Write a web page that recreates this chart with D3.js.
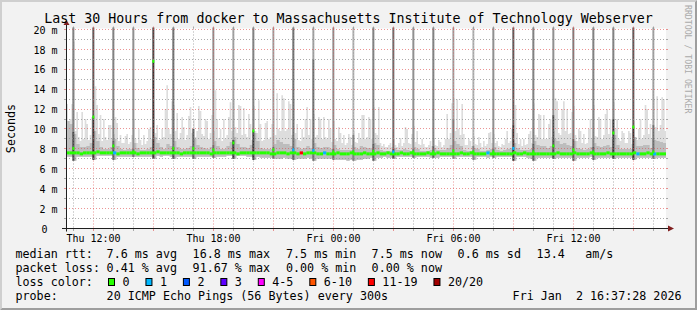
<!DOCTYPE html>
<html>
<head>
<meta charset="utf-8">
<script src="https://cdn.jsdelivr.net/npm/d3@7"></script>
<style>
html, body { margin: 0; padding: 0; background: #f2f2f2; }
svg { display: block; }
text { font-family: "DejaVu Sans Mono", monospace; white-space: pre; }
</style>
</head>
<body>
<script>
let width = 697;
let height = 310;

// ---- data (values in ms) ----
// slowest ping, 5 minute steps starting Thu 10:30
let smokeMax = [
  9.6, 10.5, 12.5, 10.8, 11.0, 12.5, 18.8, 9.8, 11.7, 9.2, 8.8, 11.7,
  9.0, 11.0, 10.5, 8.9, 9.4, 11.2, 9.6, 14.3, 12.4, 9.5, 11.4, 8.8,
  11.0, 9.2, 8.9, 10.4, 10.4, 9.0, 9.5, 11.2, 10.6, 8.8, 9.4, 8.6,
  8.6, 9.3, 9.5, 8.5, 8.7, 9.4, 11.0, 9.0, 8.6, 10.0, 8.9, 8.4,
  9.4, 8.5, 8.8, 10.0, 10.2, 9.0, 12.0, 9.6, 10.4, 8.9, 9.0, 10.0,
  9.2, 12.0, 14.4, 10.0, 9.5, 12.8, 12.4, 9.8, 11.6, 9.0, 9.6, 11.2,
  10.2, 8.9, 9.4, 11.3, 12.2, 9.6, 11.0, 9.2, 9.8, 12.3, 11.8, 9.5,
  9.3, 11.0, 10.8, 9.0, 9.6, 11.4, 9.8, 13.9, 11.0, 9.1, 10.0, 8.8,
  11.0, 9.0, 9.4, 11.2, 12.7, 9.8, 12.9, 10.2, 9.6, 12.4, 12.3, 9.4,
  12.1, 9.5, 9.2, 11.5, 10.5, 8.9, 12.3, 9.8, 9.6, 12.9, 10.5, 8.8,
  8.9, 10.6, 10.8, 9.0, 9.2, 10.5, 12.0, 9.4, 13.6, 10.0, 9.8, 13.4,
  13.1, 9.8, 10.0, 12.8, 12.5, 9.4, 13.0, 9.6, 10.5, 8.9, 8.8, 10.0,
  9.2, 11.0, 12.2, 9.4, 11.0, 9.0, 11.5, 9.2, 9.4, 11.2, 11.0, 9.0,
  11.2, 9.2, 9.0, 11.0, 10.0, 8.7, 10.8, 9.0, 8.8, 10.2, 9.6, 8.6,
  9.4, 8.4, 8.6, 9.5, 9.2, 8.4, 9.8, 8.7, 8.6, 9.6, 9.0, 11.4,
  11.4, 9.0, 9.2, 11.2, 11.0, 9.0, 12.2, 9.6, 9.4, 12.2, 8.6, 8.3,
  8.5, 8.2, 8.2, 8.4, 8.6, 8.2, 9.0, 8.4, 8.2, 8.6, 9.1, 8.3,
  8.6, 10.2, 10.0, 8.6, 8.5, 9.5, 10.3, 8.7, 9.8, 8.5, 8.4, 9.0,
  8.5, 8.2, 8.2, 8.4, 8.8, 8.3, 9.1, 8.4, 8.3, 8.9, 8.7, 8.2,
  8.4, 9.0, 11.5, 9.0, 9.6, 12.6, 13.1, 9.8, 13.0, 10.0, 9.4, 12.5,
  9.5, 8.4, 8.4, 9.0, 8.8, 8.3, 9.3, 8.5, 8.4, 9.2, 8.6, 8.2,
  8.8, 8.3, 8.5, 9.6, 9.7, 8.6, 9.5, 8.6, 8.8, 8.3, 8.2, 8.5,
  8.4, 9.0, 9.8, 8.6, 8.8, 10.0, 8.9, 12.4, 9.6, 8.5, 9.0, 8.3,
  9.0, 8.4, 8.5, 9.5, 9.8, 8.6, 12.6, 9.4, 9.2, 11.5, 11.4, 9.0,
  11.4, 9.0, 9.0, 10.5, 11.0, 9.2, 9.8, 13.1, 12.8, 9.6, 9.4, 12.0,
  12.8, 9.8, 12.0, 9.5, 9.6, 11.7, 12.3, 9.4, 8.8, 10.0, 9.8, 8.6,
  9.5, 8.5, 8.6, 10.0, 11.0, 9.0, 12.4, 9.3, 9.2, 11.2, 11.0, 9.0,
  9.4, 11.5, 12.0, 9.5, 11.0, 9.2, 12.7, 10.0, 11.0, 9.0, 8.8, 9.8,
  9.6, 8.6, 8.6, 9.8, 9.6, 8.5, 10.8, 9.2, 8.9, 10.0, 11.0, 9.0,
  9.4, 12.4, 12.0, 9.5, 10.5, 9.0, 13.0, 10.2, 13.3, 9.8, 10.4, 13.2,
  13.0, 9.8
];
// upper edge of the denser smoke, 10 minute steps starting Thu 10:30
let smokeUp = [
  10.3, 10.8, 10.5, 9.5, 8.5, 8.2,  8.2, 8.3, 8.6, 9.8, 8.8, 8.2,
  8.0, 8.0, 8.2, 9.0, 8.3, 8.0,     7.9, 8.0, 8.0, 8.6, 8.1, 7.9,
  7.9, 8.0, 8.2, 9.2, 8.6, 8.2,     8.0, 8.5, 8.3, 8.8, 8.2, 8.0,
  8.0, 8.1, 8.3, 9.0, 8.4, 8.2,     8.1, 8.0, 8.2, 8.8, 8.3, 8.0,
  8.0, 8.3, 8.7, 9.2, 8.5, 8.2,     8.2, 8.1, 8.4, 9.6, 8.8, 8.1,
  8.0, 8.0, 8.0, 8.5, 8.9, 8.7,     8.5, 8.5, 8.3, 9.0, 8.2, 8.0,
  8.1, 8.3, 8.1, 8.6, 8.2, 8.1,     8.2, 8.2, 8.0, 8.4, 8.0, 7.9,
  7.9, 7.9, 7.9, 8.2, 8.0, 8.3,     8.2, 8.1, 8.1, 8.6, 8.4, 7.9,
  7.8, 7.8, 7.8, 8.1, 7.9, 7.9,     8.0, 7.9, 7.8, 8.2, 8.0, 7.8,
  7.8, 7.8, 7.9, 8.1, 7.9, 7.9,     7.9, 8.1, 8.4, 8.8, 8.5, 8.3,
  7.9, 7.8, 7.8, 8.1, 8.0, 7.8,     7.8, 7.9, 8.0, 8.2, 7.9, 7.8,
  7.9, 8.0, 8.1, 8.6, 8.1, 7.9,     7.9, 7.9, 8.0, 8.8, 8.4, 8.3,
  8.3, 8.1, 8.3, 9.0, 8.8, 8.5,     8.6, 8.4, 8.3, 8.8, 8.1, 8.0,
  7.9, 8.0, 8.2, 8.6, 8.3, 8.2,     8.3, 8.4, 8.2, 9.4, 8.4, 8.0,
  8.0, 8.0, 8.0, 9.2, 8.3, 8.3,     8.4, 8.4, 8.1, 8.9, 8.8, 8.7,
  8.6
];
// fastest ping, 10 minute steps
let smokeMin = [
  7.2, 7.2, 7.2, 6.8, 7.2, 7.2,  7.2, 7.2, 7.2, 6.9, 7.3, 7.3,
  7.3, 7.3, 7.3, 6.9, 7.2, 7.2,  7.2, 7.2, 7.2, 7.2, 7.2, 7.2,
  7.2, 7.2, 7.2, 7.0, 7.3, 7.2,  7.3, 7.3, 7.2, 7.0, 7.2, 7.2,
  7.2, 7.2, 7.2, 7.0, 7.2, 7.2,  7.2, 7.2, 7.2, 7.1, 7.2, 7.2,
  7.2, 7.3, 7.3, 7.0, 7.3, 7.3,  7.3, 7.2, 7.2, 6.9, 7.2, 7.1,
  7.1, 7.1, 7.1, 7.0, 7.0, 7.0,  7.1, 7.0, 7.0, 6.9, 7.0, 7.0,
  7.0, 7.1, 7.0, 6.8, 7.0, 7.0,  7.0, 7.0, 7.0, 6.9, 6.9, 6.9,
  6.9, 6.8, 6.9, 6.8, 6.9, 6.9,  7.0, 7.0, 7.1, 6.8, 7.1, 7.1,
  7.2, 7.1, 7.1, 7.0, 7.2, 7.2,  7.2, 7.2, 7.2, 7.1, 7.2, 7.2,
  7.2, 7.2, 7.1, 7.1, 7.1, 7.2,  7.2, 7.2, 7.2, 7.0, 7.2, 7.2,
  7.2, 7.2, 7.2, 6.9, 7.2, 7.2,  7.2, 7.1, 7.2, 7.1, 7.2, 7.2,
  7.2, 7.2, 7.2, 6.8, 7.2, 7.2,  7.2, 7.1, 7.0, 6.8, 7.1, 7.1,
  7.1, 7.1, 7.1, 7.0, 7.1, 7.1,  7.1, 7.1, 7.1, 6.8, 7.1, 7.1,
  7.1, 7.1, 7.2, 6.9, 7.1, 7.1,  7.1, 7.1, 7.1, 7.0, 7.1, 7.1,
  7.1, 7.1, 7.1, 6.9, 7.1, 7.1,  7.1, 7.1, 7.1, 7.0, 7.1, 7.1,
  7.1
];
// median rtt, 10 minute steps
let median = [
  7.6, 7.6, 7.6, 7.6, 7.6, 7.5,  7.6, 7.6, 7.6, 7.6, 7.7, 7.6,
  7.6, 7.6, 7.6, 7.6, 7.5, 7.6,  7.6, 7.6, 7.6, 7.6, 7.5, 7.6,
  7.6, 7.6, 7.6, 7.6, 7.7, 7.6,  7.6, 7.6, 7.6, 7.6, 7.6, 7.5,
  7.6, 7.6, 7.6, 7.6, 7.6, 7.6,  7.6, 7.6, 7.5, 7.6, 7.6, 7.6,
  7.6, 7.6, 7.6, 7.6, 7.5, 7.6,  7.6, 7.6, 7.6, 7.6, 7.6, 7.6,
  7.6, 7.6, 7.5, 7.5, 7.6, 7.6,  7.6, 7.5, 7.6, 7.6, 7.5, 7.6,
  7.5, 7.6, 7.6, 7.6, 7.5, 7.5,  7.6, 7.5, 7.5, 7.5, 7.6, 7.5,
  7.5, 7.5, 7.6, 7.5, 7.5, 7.5,  7.6, 7.5, 7.5, 7.5, 7.6, 7.5,
  7.5, 7.6, 7.5, 7.5, 7.5, 7.6,  7.5, 7.5, 7.6, 7.5, 7.5, 7.5,
  7.5, 7.6, 7.5, 7.5, 7.6, 7.5,  7.5, 7.5, 7.5, 7.5, 7.5, 7.6,
  7.5, 7.5, 7.6, 7.5, 7.5, 7.5,  7.5, 7.6, 7.5, 7.5, 7.5, 7.5,
  7.5, 7.5, 7.5, 7.6, 7.5, 7.5,  7.6, 7.5, 7.5, 7.5, 7.5, 7.5,
  7.5, 7.5, 7.5, 7.5, 7.6, 7.5,  7.5, 7.5, 7.5, 7.6, 7.5, 7.5,
  7.5, 7.5, 7.6, 7.5, 7.5, 7.5,  7.5, 7.6, 7.5, 7.5, 7.5, 7.5,
  7.5, 7.5, 7.5, 7.6, 7.5, 7.5,  7.5, 7.6, 7.5, 7.5, 7.5, 7.5,
  7.5
];
// [10 minute step, loss colour index] where the median is not green
let lossSteps = [[15, 1], [71, 6], [78, 1], [127, 1], [172, 1], [177, 1]];

// hourly bursts, Thu 11:00 .. Fri 16:00
let spikeOver = [6, 8, 6, 5, 9, 7, 0, 5, 4, 6, 4, 7, 4, 5, 3, 6, 7, 5, 6, 4, 3, 5, 8, 6, 5, 6, 6, 6, 8, 4];
let spikeMid = [9.7, 11.2, 8.8, 8.0, 16.8, 8.2, 10.0, 8.4, 8.9, 9.8, 8.2, 8.0, 17.0, 8.0, 9.4,
  8.5, 8.0, 8.0, 8.3, 11.0, 8.3, 8.0, 10.4, 8.5, 11.4, 9.0, 8.2, 11.0, 10.2, 10.4];
let spikeMidLevel = [9, 10, 8, 7, 10, 9, 8, 7, 10, 10, 7, 8, 7, 7, 6, 8, 9, 7, 8, 6, 6, 7, 10, 8, 9, 8, 8, 10, 10, 7];
let spikeMedian = [8.05, 11.2, 8.3, 7.7, 16.8, 8.05, 8.05, 7.9, 8.6, 9.8, 7.9, 7.9, 7.85, 7.7, 7.7,
  7.75, 7.7, 7.7, 7.7, 7.8, 7.7, 7.7, 8.05, 7.7, 8.3, 7.9, 7.7, 9.6, 10.2, 7.7];
let spikeLoss = [0, 0, 0, 0, 0, 0, 0, 0, 0, 0, 0, 1, 1, 0, 0, 0, 1, 0, 0, 0, 0, 0, 1, 0, 0, 0, 0, 0, 0, 0];

let lossLabels = ["0", "1", "2", "3", "4-5", "6-10", "11-19", "20/20"];
let lossColors = ["#26ff00", "#00b8ff", "#0059ff", "#5e00ff", "#ff00ff", "#ff5500", "#ff0000", "#a10000"];

let yTickValues = [0, 2, 4, 6, 8, 10, 12, 14, 16, 18, 20];
let yTickLabels = ["0", "2 m", "4 m", "6 m", "8 m", "10 m", "12 m", "14 m", "16 m", "18 m", "20 m"];
let xTickTimes = [new Date(2026, 0, 1, 12), new Date(2026, 0, 1, 18), new Date(2026, 0, 2, 0),
  new Date(2026, 0, 2, 6), new Date(2026, 0, 2, 12)];
let xTickLabels = ["Thu 12:00", "Thu 18:00", "Fri 00:00", "Fri 06:00", "Fri 12:00"];

let rttStats = ["7.6 ms avg", "16.8 ms max", "7.5 ms min", "7.5 ms now", "0.6 ms sd", "13.4", "am/s"];
let lossStats = ["0.41 % avg", "91.67 % max", "0.00 % min", "0.00 % now"];

let title = "Last 30 Hours from docker to Massachusetts Institute of Technology Webserver";
let probeText = "20 ICMP Echo Pings (56 Bytes) every 300s";
let stampText = "Fri Jan  2 16:37:28 2026";

// ---- layout ----
let startTime = new Date(2026, 0, 1, 10, 37, 28);
let endTime = new Date(2026, 0, 2, 16, 37, 28);
let firstStep = new Date(2026, 0, 1, 10, 30);
let firstSpike = new Date(2026, 0, 1, 11, 0);
let pLeft = 66, pRight = 666, pTop = 28.5, pBottom = 228.5;

let x = d3.scaleTime().domain([startTime, endTime]).range([65.5, 665.5]);
let y = d3.scaleLinear().domain([0, 20.1]).range([pBottom, pTop]);

let gridColor = "rgba(143,143,143,0.75)";
let mgridColor = "rgba(222,79,79,0.6)";
let shade = (level) => { let c = Math.round(190 / 10 * (10 - level) + 50); return d3.rgb(c, c, c).toString(); };

let svg = d3.select("body").append("svg").attr("width", width).attr("height", height);

// background with rrdtool bevel
svg.append("rect").attr("width", width).attr("height", height).attr("fill", "#f2f2f2");
svg.append("path").attr("d", `M0,${height} L2,${height - 2} L2,2 L${width - 2},2 L${width},0 L0,0 Z`).attr("fill", "#cfcfcf");
svg.append("path").attr("d", `M2,${height - 2} L${width - 2},${height - 2} L${width - 2},2 L${width},0 L${width},${height} L0,${height} Z`).attr("fill", "#9e9e9e");
svg.append("rect").attr("x", pLeft).attr("y", pTop).attr("width", pRight - pLeft).attr("height", pBottom - pTop).attr("fill", "#fff");

svg.append("clipPath").attr("id", "plotclip").append("rect")
  .attr("x", pLeft).attr("y", pTop - 1).attr("width", pRight - pLeft).attr("height", pBottom - pTop + 1);
let plot = svg.append("g").attr("clip-path", "url(#plotclip)");

// smoke
let at = (arr, i) => arr[Math.min(i, arr.length - 1)];
let stepTime = (i) => d3.timeMinute.offset(firstStep, i * 10);
let fineTime = (i) => d3.timeMinute.offset(firstStep, i * 5);
let outer = d3.area().curve(d3.curveStepAfter)
  .x(i => x(fineTime(i))).y0(i => y(at(smokeMin, Math.floor(i / 2)))).y1(i => y(at(smokeMax, i)));
let inner = d3.area().curve(d3.curveStepAfter)
  .x(i => x(stepTime(i))).y0(i => y(at(smokeMin, i))).y1(i => y(at(smokeUp, i)));
plot.append("path").attr("d", outer(d3.range(smokeMax.length + 1))).attr("fill", "#dddddd");
plot.append("path").attr("d", inner(d3.range(smokeUp.length + 1))).attr("fill", "#bdbdbd");

// hourly bursts
let spikes = spikeOver.map((over, k) => ({
  t: d3.timeHour.offset(firstSpike, k), over: over, mid: spikeMid[k], midLevel: spikeMidLevel[k],
  med: spikeMedian[k], loss: spikeLoss[k], floor: smokeMin[3 + 6 * k]
}));
let sx0 = (d) => x(d3.timeMinute.offset(d.t, -2));
let sx1 = (d) => x(d3.timeMinute.offset(d.t, 4.5));
plot.selectAll(".spike-top").data(spikes.filter(d => d.over > 0)).enter().append("rect")
  .attr("class", "spike-top")
  .attr("x", sx0).attr("width", d => sx1(d) - sx0(d))
  .attr("y", pTop - 2).attr("height", d => y(d.mid) - pTop + 2)
  .attr("fill", d => shade(d.over));
plot.selectAll(".spike-low").data(spikes).enter().append("rect")
  .attr("class", "spike-low")
  .attr("x", sx0).attr("width", d => sx1(d) - sx0(d))
  .attr("y", d => y(d.mid)).attr("height", d => y(d.floor) - y(d.mid))
  .attr("fill", d => shade(d.midLevel));

// grid
let grid = svg.append("g");
let hours = d3.timeHour.range(d3.timeHour.ceil(startTime), endTime);
let isMajor = (d) => d.getHours() % 3 === 0;
let gx = (d) => Math.floor(x(d)) + 0.5;
grid.selectAll(".vgrid").data(hours).enter().append("line")
  .attr("x1", gx).attr("x2", gx).attr("y1", pTop).attr("y2", pBottom)
  .attr("stroke", d => isMajor(d) ? mgridColor : gridColor).attr("stroke-dasharray", "1,2");
grid.selectAll(".vtick").data(hours).enter().append("path")
  .attr("d", d => `M${gx(d)},${pBottom} v2.5 M${gx(d)},${pTop - 2} v2`)
  .attr("stroke", d => isMajor(d) ? mgridColor : gridColor);
let yLines = d3.range(1, 21);
let gy = (v) => Math.floor(y(v)) + 0.5;
grid.selectAll(".hgrid").data(yLines).enter().append("line")
  .attr("x1", pLeft).attr("x2", pRight).attr("y1", gy).attr("y2", gy)
  .attr("stroke", v => v % 2 === 0 ? mgridColor : gridColor).attr("stroke-dasharray", "1,2");
grid.selectAll(".htick").data(yLines).enter().append("path")
  .attr("d", v => `M${pLeft - 2},${gy(v)} h2 M${pRight},${gy(v)} h2`)
  .attr("stroke", v => v % 2 === 0 ? mgridColor : gridColor);

// median, coloured by loss
let lossAt = new Map(lossSteps);
let band = 1.5;
svg.append("g").attr("clip-path", "url(#plotclip)").selectAll("rect").data(median).enter().append("rect")
  .attr("x", (m, i) => x(stepTime(i))).attr("width", (m, i) => x(stepTime(i + 1)) - x(stepTime(i)))
  .attr("y", m => y(m) - band).attr("height", band * 2)
  .attr("fill", (m, i) => lossColors[lossAt.get(i) || 0]);
svg.append("g").selectAll("rect").data(spikes).enter().append("rect")
  .attr("x", sx0).attr("width", d => sx1(d) - sx0(d))
  .attr("y", d => y(d.med) - band).attr("height", band * 2)
  .attr("fill", d => lossColors[d.loss]);

// axes
svg.append("line").attr("x1", pLeft - 4).attr("x2", pRight + 4).attr("y1", pBottom).attr("y2", pBottom)
  .attr("stroke", "#1f1f1f");
svg.append("line").attr("x1", pLeft + 0.5).attr("x2", pLeft + 0.5).attr("y1", pBottom + 3).attr("y2", pTop - 4)
  .attr("stroke", "#1f1f1f");
svg.append("path").attr("d", `M${pRight + 2},${pBottom - 3} L${pRight + 8},${pBottom} L${pRight + 2},${pBottom + 3} Z`)
  .attr("fill", "#801f1f");
svg.append("path").attr("d", `M${pLeft - 2.5},${pTop - 3.5} L${pLeft + 0.5},${pTop - 8.5} L${pLeft + 3.5},${pTop - 3.5} Z`)
  .attr("fill", "#801f1f");

let xAxis = svg.append("g").attr("transform", `translate(0,${pBottom})`)
  .call(d3.axisBottom(x).tickValues(xTickTimes).tickSize(0).tickFormat((d, i) => xTickLabels[i]));
xAxis.select(".domain").remove();
xAxis.selectAll("text").attr("y", 13).attr("dy", null)
  .attr("font-family", "DejaVu Sans Mono").attr("font-size", 10).attr("fill", "#000");

let yAxis = svg.append("g").attr("transform", `translate(${pLeft},0)`)
  .call(d3.axisLeft(y).tickValues(yTickValues).tickSize(0).tickFormat((d, i) => yTickLabels[i]));
yAxis.select(".domain").remove();
yAxis.selectAll("text").attr("x", -8.5).attr("dy", "0.36em").attr("dx", d => d === 0 ? -10 : 0)
  .attr("font-family", "DejaVu Sans Mono").attr("font-size", 10).attr("fill", "#000");

// titles
svg.append("text").attr("x", width / 2).attr("y", 23.3).attr("text-anchor", "middle")
  .attr("font-size", 13.3).text(title);
svg.append("text").attr("transform", `translate(15,${(pTop + pBottom) / 2}) rotate(-90)`)
  .attr("text-anchor", "middle").attr("font-size", 11.7).text("Seconds");
svg.append("text").attr("transform", "translate(685,5) rotate(90)")
  .attr("font-size", 8.2).attr("fill", "#aaaaaa").text("RRDTOOL / TOBI OETIKER");

// legend
let legend = svg.append("g").attr("font-size", 11.7);
let cols = [15.5, 106.6, 192.6, 286, 371.6, 457.6, 536.6, 585.2];
legend.append("text").attr("x", cols[0]).attr("y", 258).text("median rtt:");
legend.selectAll(".rtt").data(rttStats).enter().append("text")
  .attr("x", (d, i) => cols[i + 1]).attr("y", 258).text(d => d);
legend.append("text").attr("x", cols[0]).attr("y", 272).text("packet loss:");
legend.selectAll(".loss").data(lossStats).enter().append("text")
  .attr("x", (d, i) => cols[i + 1]).attr("y", 272).text(d => d);
legend.append("text").attr("x", cols[0]).attr("y", 286).text("loss color:");
let bx = 108;
lossLabels.forEach((label, i) => {
  legend.append("rect").attr("x", bx + 0.5).attr("y", 278.5).attr("width", 6).attr("height", 7)
    .attr("fill", lossColors[i]).attr("stroke", "#000");
  let t = legend.append("text").attr("x", bx + 14.5).attr("y", 286).text(label);
  bx = bx + 14.5 + t.node().getComputedTextLength() + 15.9;
});
legend.append("text").attr("x", cols[0]).attr("y", 300).text("probe:");
legend.append("text").attr("x", cols[1]).attr("y", 300).text(probeText);
legend.append("text").attr("x", 681.5).attr("y", 300).attr("text-anchor", "end").text(stampText);
</script>
</body>
</html>
